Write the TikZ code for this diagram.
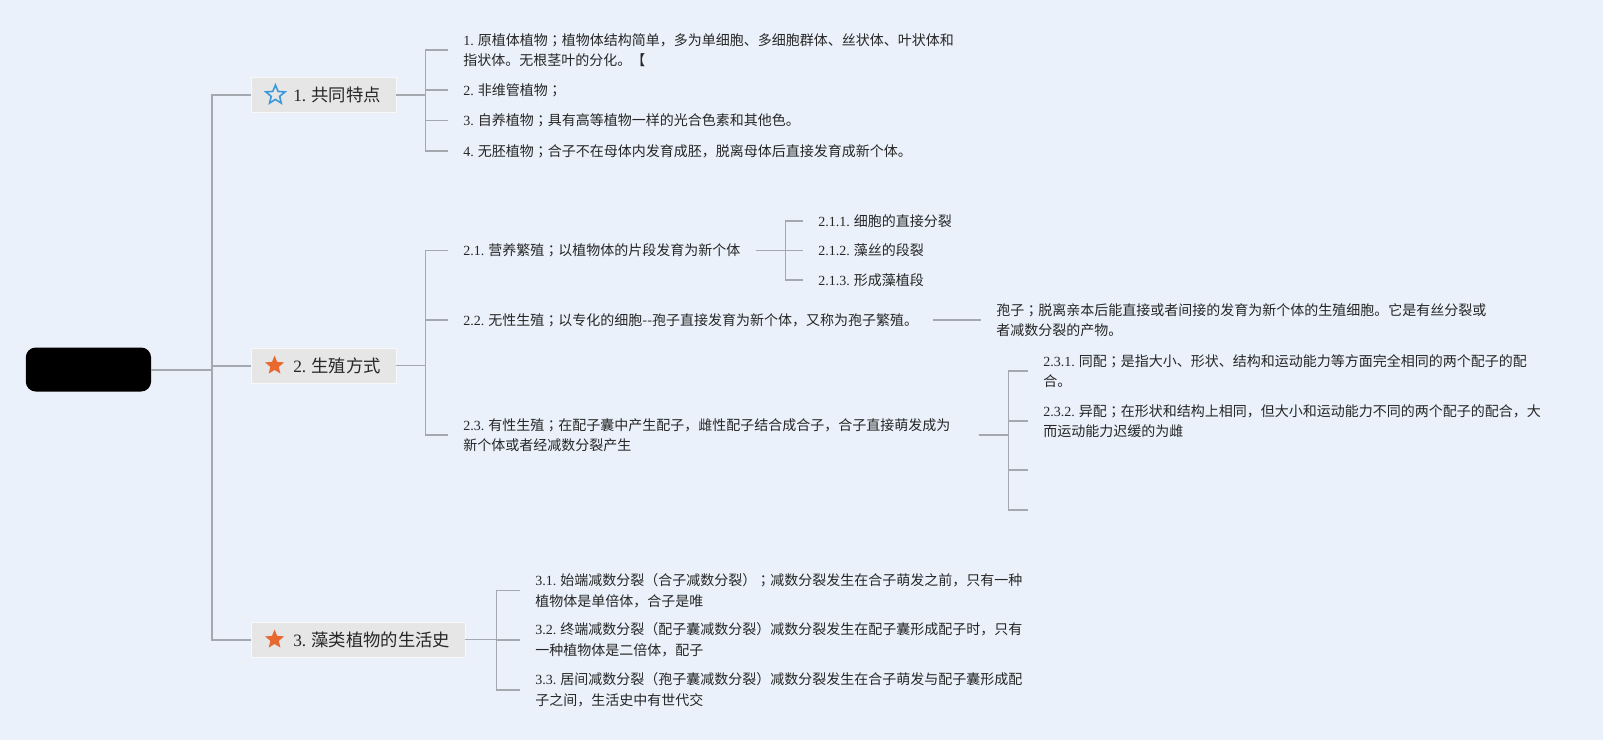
\documentclass[tikz,border=0pt]{standalone}
\usepackage{fontspec}
\setmainfont{Noto Sans CJK SC}
\newfontfamily\numfont{Liberation Serif}
\newfontfamily\jpfont{Noto Sans CJK JP}
\usepackage{tikz}
\usetikzlibrary{positioning, shapes.geometric}

\definecolor{bgblue}{HTML}{EAF1FA}
\definecolor{linegray}{HTML}{A3A9AF}
\definecolor{nodegray}{HTML}{E6E6E6}
\definecolor{textdark}{HTML}{262626}
\definecolor{starblue}{HTML}{3A9AD9}
\definecolor{starorange}{HTML}{E8692F}

\newcommand{\numtag}[1]{{\numfont #1}}
\newcommand{\semi}{{\jpfont ；}}

\begin{document}
\begin{tikzpicture}[
    x=0.75pt, y=-0.75pt,
    % Styles
    root/.style={
        fill=black, rounded corners=7.5pt,
        minimum width=94pt, minimum height=33pt, inner sep=0pt
    },
    branch/.style={
        draw=white!70!nodegray, fill=nodegray, anchor=west,
        minimum height=26pt, inner xsep=11.25pt, inner ysep=0pt,
        font=\fontsize{13}{16}\selectfont, text=textdark
    },
    leaf/.style={
        anchor=west, align=flush left, inner xsep=11.25pt, inner ysep=2pt,
        font=\fontsize{10.5}{15.4}\selectfont, text=textdark
    },
    staricon/.style={
        star, star points=5, star point ratio=2.25,
        minimum size=15pt, inner sep=0pt
    },
    trunk/.style={draw=linegray, line width=1.5pt},
    twig/.style={draw=linegray, line width=1.1pt}
]

    \fill[bgblue] (0,0) rectangle (1603,740);

    % --- Root ---
    \node[root, anchor=west] (root) at (25.5,369.5) {};

    % --- Main branches ---
    \node[branch] (n1) at (251,95) {\hspace*{20.25pt}\numtag{1.} 共同特点};
    \node[branch] (n2) at (251,365.5) {\hspace*{20.25pt}\numtag{2.} 生殖方式};
    \node[branch] (n3) at (251,639.5) {\hspace*{20.25pt}\numtag{3.} 藻类植物的生活史};

    \node[staricon, draw=starblue, line width=1.2pt, right=13pt of n1.west] (s1) {};
    \node[staricon, fill=starorange, right=13pt of n2.west] (s2) {};
    \node[staricon, fill=starorange, right=13pt of n3.west] (s3) {};

    % --- 1. common traits ---
    \node[leaf] (l11) at (448,50) {\numtag{1.} 原植体植物\semi 植物体结构简单，多为单细胞、多细胞群体、丝状体、叶状体和\\指状体。无根茎叶的分化。【};
    \node[leaf] (l12) at (448,90) {\numtag{2.} 非维管植物\semi};
    \node[leaf] (l13) at (448,120.5) {\numtag{3.} 自养植物\semi 具有高等植物一样的光合色素和其他色。};
    \node[leaf] (l14) at (448,151) {\numtag{4.} 无胚植物\semi 合子不在母体内发育成胚，脱离母体后直接发育成新个体。};

    % --- 2. reproduction ---
    \node[leaf] (l21) at (448,250.5) {\numtag{2.1.} 营养繁殖\semi 以植物体的片段发育为新个体};
    \node[leaf] (l211) at (803,221) {\numtag{2.1.1.} 细胞的直接分裂};
    \node[leaf] (l212) at (803,250.5) {\numtag{2.1.2.} 藻丝的段裂};
    \node[leaf] (l213) at (803,280) {\numtag{2.1.3.} 形成藻植段};

    \node[leaf] (l22) at (448,320) {\numtag{2.2.} 无性生殖\semi 以专化的细胞-{}-孢子直接发育为新个体，又称为孢子繁殖。};
    \node[leaf] (spore) at (981,320) {孢子\semi 脱离亲本后能直接或者间接的发育为新个体的生殖细胞。它是有丝分裂或\\者减数分裂的产物。};

    \node[leaf, text width=375pt] (l23) at (448,435) {\numtag{2.3.} 有性生殖\semi 在配子囊中产生配子，雌性配子结合成合子，合子直接萌发成为\\新个体或者经减数分裂产生};
    \node[leaf] (l231) at (1028,371) {\numtag{2.3.1.} 同配\semi 是指大小、形状、结构和运动能力等方面完全相同的两个配子的配\\合。};
    \node[leaf] (l232) at (1028,421) {\numtag{2.3.2.} 异配\semi 在形状和结构上相同，但大小和运动能力不同的两个配子的配合，大\\而运动能力迟缓的为雌};
    \node[leaf] (l233) at (1028,470) {};
    \node[leaf] (l234) at (1028,510) {};

    % --- 3. life history ---
    \node[leaf] (l31) at (520,590.5) {\numtag{3.1.} 始端减数分裂（合子减数分裂）\semi 减数分裂发生在合子萌发之前，只有一种\\植物体是单倍体，合子是唯};
    \node[leaf] (l32) at (520,640) {\numtag{3.2.} 终端减数分裂（配子囊减数分裂）减数分裂发生在配子囊形成配子时，只有\\一种植物体是二倍体，配子};
    \node[leaf] (l33) at (520,690) {\numtag{3.3.} 居间减数分裂（孢子囊减数分裂）减数分裂发生在合子萌发与配子囊形成配\\子之间，生活史中有世代交};

    % --- Connections ---
    % Root to branches
    \draw[trunk] (root.east) -- ++(60.5,0) |- (n1.west);
    \draw[trunk] (root.east) -- ++(60.5,0) |- (n2.west);
    \draw[trunk] (root.east) -- ++(60.5,0) |- (n3.west);

    % Branch 1
    \draw[twig] (n1.east) -- ++(29.5,0) |- (l11.west);
    \draw[twig] (n1.east) -- ++(29.5,0) |- (l12.west);
    \draw[twig] (n1.east) -- ++(29.5,0) |- (l13.west);
    \draw[twig] (n1.east) -- ++(29.5,0) |- (l14.west);

    % Branch 2
    \draw[twig] (n2.east) -- ++(29.5,0) |- (l21.west);
    \draw[twig] (n2.east) -- ++(29.5,0) |- (l22.west);
    \draw[twig] (n2.east) -- ++(29.5,0) |- (l23.west);
    \draw[twig] (l21.east) -- ++(30,0) |- (l211.west);
    \draw[twig] (l21.east) -- ++(30,0) |- (l212.west);
    \draw[twig] (l21.east) -- ++(30,0) |- (l213.west);
    \draw[twig] (l22.east) -- (spore.west);
    \draw[twig] (l23.east) -- ++(30,0) |- (l231.west);
    \draw[twig] (l23.east) -- ++(30,0) |- (l232.west);
    \draw[twig] (l23.east) -- ++(30,0) |- (l233.west);
    \draw[twig] (l23.east) -- ++(30,0) |- (l234.west);

    % Branch 3
    \draw[twig] (n3.east) -- ++(31,0) |- (l31.west);
    \draw[twig] (n3.east) -- ++(31,0) |- (l32.west);
    \draw[twig] (n3.east) -- ++(31,0) |- (l33.west);

\end{tikzpicture}
\end{document}
